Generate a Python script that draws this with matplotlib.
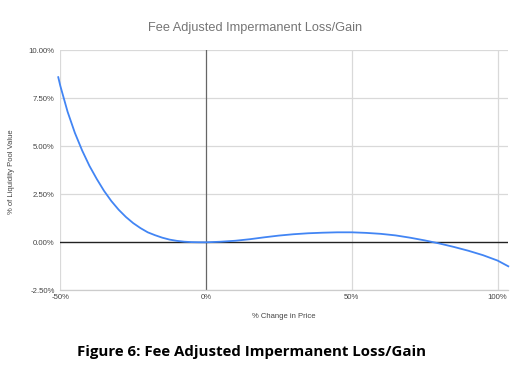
import matplotlib
matplotlib.use("Agg")
import matplotlib.pyplot as plt

price_change = [-50.7, -50, -47.5, -45, -42.5, -40, -37.5, -35, -32.5, -30, -27.5, -25,
                -22.5, -20, -17.5, -15, -12.5, -10, -7.5, -5, -2.5, 0,
                5, 10, 15, 20, 25, 30, 35, 40, 45, 50, 55, 60, 65, 70, 75, 80,
                85, 90, 95, 100, 103.7]
pool_value = [8.60, 8.15, 6.80, 5.70, 4.78, 3.98, 3.30, 2.68, 2.15, 1.70, 1.32, 1.00,
              0.74, 0.52, 0.37, 0.24, 0.14, 0.075, 0.032, 0.010, 0.002, 0.0,
              0.03, 0.08, 0.16, 0.26, 0.35, 0.42, 0.47, 0.50, 0.52, 0.52, 0.49, 0.44, 0.36, 0.24, 0.10, -0.06,
              -0.24, -0.44, -0.67, -0.95, -1.25]
x_ticks = [-50, 0, 50, 100]
x_tick_labels = ["-50%", "0%", "50%", "100%"]
y_ticks = [-2.5, 0, 2.5, 5, 7.5, 10]
y_tick_labels = ["-2.50%", "0.00%", "2.50%", "5.00%", "7.50%", "10.00%"]

plt.rcParams['font.family'] = ['Liberation Sans', 'DejaVu Sans']

W, H = 532, 373
fig = plt.figure(figsize=(W/100, H/100), dpi=100)
left, right, top, bottom = 60.3, 508.3, 50.3, 290.3
ax = fig.add_axes([left/W, 1-bottom/H, (right-left)/W, (bottom-top)/H])

ax.set_xlim(-50, 103.7)
ax.set_ylim(-2.5, 10)

for y in y_ticks:
    if y == 0:
        continue
    ax.axhline(y, color='#d9d9d9', lw=0.9, zorder=0)
for x in x_ticks:
    if x == 0:
        continue
    ax.axvline(x, color='#d9d9d9', lw=0.9, zorder=0)
ax.axvline(0, color='#666666', lw=0.9, zorder=1)
ax.axhline(0, color='#222222', lw=1.0, zorder=1)

ax.plot(price_change, pool_value, color='#4285f4', lw=1.3, zorder=3, clip_on=False)

for s in ax.spines.values():
    s.set_visible(False)
ax.spines['bottom'].set_visible(True)
ax.spines['bottom'].set_color('#cccccc')
ax.spines['bottom'].set_linewidth(0.9)

ax.set_xticks(x_ticks)
ax.set_xticklabels(x_tick_labels)
ax.set_yticks(y_ticks)
ax.set_yticklabels(y_tick_labels)
ax.tick_params(length=0, labelsize=5.6, labelcolor='#444444', pad=4)
ax.tick_params(axis='x', pad=3)

fig.text(284/W, 1-317/H, "% Change in Price", ha='center', va='center', fontsize=5.5, color='#444444')
fig.text(12/W, 1-172/H, "% of Liquidity Pool Value", ha='center', va='center', rotation=90,
         fontsize=5.5, color='#444444')
fig.text(255/W, 1-28/H, "Fee Adjusted Impermanent Loss/Gain", ha='center', va='center',
         fontsize=9.2, color='#757575')
fig.text(77/W, 1-352/H, "Figure 6: Fee Adjusted Impermanent Loss/Gain", ha='left', va='center',
         fontsize=10.8, fontweight='bold', color='black', family=['Open Sans', 'DejaVu Sans'])

fig.savefig("out.png", dpi=100, facecolor='white')
